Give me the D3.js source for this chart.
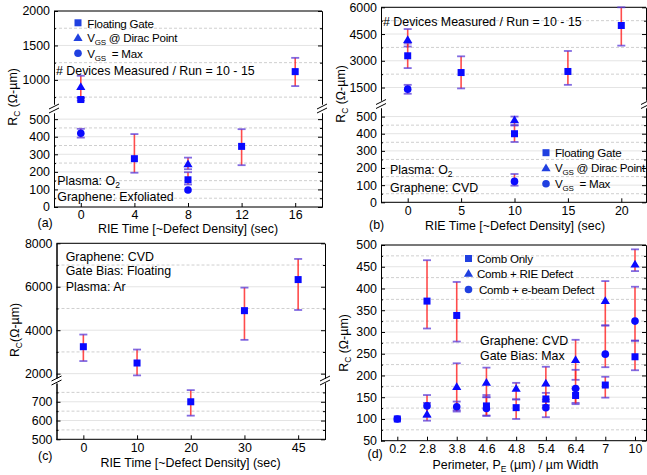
<!DOCTYPE html>
<html>
<head>
<meta charset="utf-8">
<script src="https://cdn.jsdelivr.net/npm/d3@7"></script>
<style>
  body { margin: 0; background: #fff; }
  text { font-family: "Liberation Sans", Arial, sans-serif; font-size: 12.4px; fill: #000; }
  text.leg { font-size: 11.6px; letter-spacing: -0.25px; }
</style>
</head>
<body>
<svg id="chart" width="647" height="475"></svg>
<script>
// ---- data: panel (a) O2 plasma, exfoliated graphene
var aTimes = [0, 4, 8, 12, 16];
var aFloat = [715, 275, 155, 345, 1120];
var aFloatLo = [700, 195, 128, 238, 910];
var aFloatHi = [740, 415, 198, 443, 1320];
var aDiracTimes = [0, 8];
var aDirac = [900, 245];
var aDiracLo = [740, 215];
var aDiracHi = [1060, 281];
var aMaxTimes = [0, 8];
var aMax = [420, 97];
var aMaxLo = [395, null];
var aMaxHi = [445, null];

// ---- panel (b) O2 plasma, CVD graphene
var bTimes = [0, 5, 10, 15, 20];
var bFloat = [3280, 2340, 400, 2400, 4980];
var bFloatLo = [2590, 1450, 352, 1650, 3850];
var bFloatHi = [3970, 3250, 448, 3550, 6000];
var bDiracTimes = [0, 10];
var bDirac = [4180, 480];
var bDiracLo = [3800, 450];
var bDiracHi = [4780, 500];
var bMaxTimes = [0, 10];
var bMax = [1410, 122];
var bMaxLo = [1150, 97];
var bMaxHi = [1650, 165];

// ---- panel (c) Ar plasma, CVD graphene, floating gate
var cTimes = ["0", "10", "20", "30", "45"];
var cFloat = [3240, 2490, 700, 4900, 6330];
var cFloatLo = [2580, 1920, 626, 3556, 4930];
var cFloatHi = [3800, 3110, 762, 5960, 7280];

// ---- panel (d) perimeter
var dPerim = ["0.2", "2.8", "3.8", "4.6", "4.8", "5.4", "6.4", "7", "10"];
var dComb = [100, 371, 338, 130, 126, 146, 154, 178, 243];
var dCombLo = [null, 308, 278, 108, 100, 132, 137, 149, 212];
var dCombHi = [null, 465, 415, 155, 145, 160, 170, 197, 280];
var dRiePerim = ["2.8", "3.8", "4.6", "4.8", "5.4", "6.4", "7", "10"];
var dRie = [111, 174, 184, 170, 182, 236, 372, 456];
var dRieLo = [96, 120, 150, 145, 145, 190, 315, 440];
var dRieHi = [137, 228, 218, 183, 220, 282, 417, 490];
var dEbPerim = ["0.2", "2.8", "3.8", "4.6", "5.4", "6.4", "7", "10"];
var dEb = [100, 130, 128, 124, 126, 170, 249, 325];
var dEbLo = [null, 105, 117, 107, 104, 134, 219, 280];
var dEbHi = [null, 155, 140, 150, 140, 213, 315, 404];

var svg = d3.select("#chart");
var blue = "#0a0aff";
var legBlue = "#2040e0";

function series(xs, vs, lo, hi, shape) {
  return xs.map(function (x, i) { return {x: x, v: vs[i], lo: lo[i], hi: hi[i], shape: shape}; });
}

// text with subscripts: parts = [[str, isSub], ...]
function rich(sel, parts, subSize) {
  var down = false;
  parts.forEach(function (p) {
    var ts = sel.append("tspan").text(p[0]);
    if (p[1] && !down) { ts.style("font-size", subSize || "8.5px").attr("dy", 3); down = true; }
    else if (!p[1] && down) { ts.attr("dy", -3); down = false; }
  });
  return sel;
}

function label(x, y, parts) {
  return rich(svg.append("text").attr("x", x).attr("y", y).attr("xml:space", "preserve"), parts);
}

function legLabel(x, y, parts) {
  return rich(svg.append("text").attr("class", "leg").attr("x", x).attr("y", y).attr("xml:space", "preserve"), parts, "8px");
}

function marker(g, shape, cx, cy, col) {
  if (shape == "sq") {
    g.append("rect").attr("x", cx - 3.5).attr("y", cy - 3.5).attr("width", 7).attr("height", 7).style("fill", col);
  } else if (shape == "tri") {
    g.append("path").attr("d", "M" + cx + "," + (cy - 4.5) + "L" + (cx + 4.6) + "," + (cy + 3.3) + "L" + (cx - 4.6) + "," + (cy + 3.3) + "Z").style("fill", col);
  } else {
    g.append("circle").attr("cx", cx).attr("cy", cy).attr("r", 3.8).style("fill", col);
  }
}

function panel(p) {
  var g = svg.append("g");
  p.segs.forEach(function (s) {
    s.y = d3.scaleLinear().domain(s.domain).range(s.range);
    // grid
    g.append("g").selectAll("line").data(s.minor).enter().append("line")
      .attr("x1", p.left).attr("x2", p.right)
      .attr("y1", function (d) { return s.y(d); }).attr("y2", function (d) { return s.y(d); })
      .style("stroke", "#cfcfcf").style("stroke-dasharray", "3,2");
    g.append("g").selectAll("line").data(s.major).enter().append("line")
      .attr("x1", p.left).attr("x2", p.right)
      .attr("y1", function (d) { return s.y(d); }).attr("y2", function (d) { return s.y(d); })
      .style("stroke", "#e4e4e4");
    // left axis
    g.append("g").attr("transform", "translate(" + p.left + ",0)")
      .call(d3.axisLeft(s.y).tickValues(s.major).tickSize(-4).tickSizeOuter(0).tickPadding(4).tickFormat(d3.format("d")));
    g.append("g").attr("transform", "translate(" + p.left + ",0)")
      .call(d3.axisLeft(s.y).tickValues(s.minor).tickSize(-2).tickSizeOuter(0).tickFormat(""));
    // right axis
    g.append("g").attr("transform", "translate(" + p.right + ",0)")
      .call(d3.axisRight(s.y).tickValues(s.major).tickSize(-4).tickSizeOuter(0).tickFormat(""));
    g.append("g").attr("transform", "translate(" + p.right + ",0)")
      .call(d3.axisRight(s.y).tickValues(s.minor).tickSize(-2).tickSizeOuter(0).tickFormat(""));
  });
  // top / bottom frame
  g.append("line").attr("x1", p.left).attr("x2", p.right).attr("y1", p.top).attr("y2", p.top).style("stroke", "#000");
  g.append("line").attr("x1", p.left).attr("x2", p.right).attr("y1", p.bottom).attr("y2", p.bottom).style("stroke", "#000");
  // bottom axis
  var xa = g.append("g").attr("transform", "translate(0," + p.bottom + ")")
    .call(d3.axisBottom(p.x).tickValues(p.xticks).tickSize(-4).tickPadding(p.xpad || 4));
  xa.select(".domain").remove();
  // axis breaks
  if (p.segs.length > 1) {
    var yb = (p.segs[0].range[0] + p.segs[1].range[1]) / 2;
    [p.left, p.right].forEach(function (xx) {
      [-2, 2].forEach(function (o) {
        g.append("line").attr("x1", xx - 5).attr("x2", xx + 5)
          .attr("y1", yb + o + 2.5).attr("y2", yb + o - 2.5)
          .style("stroke", "#000");
      });
    });
  }
  function yOf(v) {
    for (var i = 0; i < p.segs.length; i++) {
      var d = p.segs[i].domain;
      if (v >= d[0] && v <= d[1]) return p.segs[i].y(v);
    }
    return v > p.segs[0].domain[1] ? p.top : p.bottom;
  }
  var pts = [];
  p.data.forEach(function (s) { pts = pts.concat(s); });
  // error bars
  pts.filter(function (d) { return d.lo != null; }).forEach(function (d) {
    var cx = p.x(d.x);
    g.append("line").attr("x1", cx).attr("x2", cx).attr("y1", yOf(d.lo)).attr("y2", yOf(d.hi))
      .style("stroke", "#ff2020").style("stroke-width", 1.6).style("opacity", 0.8);
    [d.lo, d.hi].forEach(function (v) {
      g.append("line").attr("x1", cx - 4).attr("x2", cx + 4).attr("y1", yOf(v)).attr("y2", yOf(v))
        .style("stroke", "#5a3ad8").style("stroke-width", 1.8).style("opacity", 0.75);
    });
  });
  // markers
  pts.forEach(function (d) { marker(g, d.shape, p.x(d.x), yOf(d.v), blue); });
}

// ---- panel (a)
panel({
  left: 54, right: 322, top: 11, bottom: 207, xpad: 3,
  x: d3.scaleLinear().domain([-2, 18]).range([54, 322]),
  xticks: aTimes,
  segs: [
    {domain: [650, 2000], range: [104, 11], major: [1000, 1500, 2000], minor: [750, 1250, 1750]},
    {domain: [0, 535], range: [207, 113], major: [0, 100, 200, 300, 400, 500], minor: [50, 150, 250, 350, 450]}
  ],
  data: [
    series(aMaxTimes, aMax, aMaxLo, aMaxHi, "ci"),
    series(aDiracTimes, aDirac, aDiracLo, aDiracHi, "tri"),
    series(aTimes, aFloat, aFloatLo, aFloatHi, "sq")
  ]
});

// ---- panel (b)
panel({
  left: 381, right: 646, top: 7.3, bottom: 202.3,
  x: d3.scaleLinear().domain([-2.5, 22.5]).range([381, 648]),
  xticks: bTimes,
  segs: [
    {domain: [800, 6000], range: [100, 7.3], major: [1500, 3000, 4500, 6000], minor: [2250, 3750, 5250]},
    {domain: [0, 550], range: [202.3, 108], major: [0, 100, 200, 300, 400, 500], minor: [50, 150, 250, 350, 450]}
  ],
  data: [
    series(bMaxTimes, bMax, bMaxLo, bMaxHi, "ci"),
    series(bDiracTimes, bDirac, bDiracLo, bDiracHi, "tri"),
    series(bTimes, bFloat, bFloatLo, bFloatHi, "sq")
  ]
});

// ---- panel (c)
panel({
  left: 56.5, right: 325, top: 243.3, bottom: 439.3,
  x: d3.scalePoint().domain(cTimes).range([56.5, 325]).padding(0.5),
  xticks: cTimes,
  segs: [
    {domain: [1800, 8000], range: [378, 243.3], major: [2000, 4000, 6000, 8000], minor: [3000, 5000, 7000]},
    {domain: [500, 800], range: [439.3, 383], major: [500, 600, 700], minor: [550, 650, 750]}
  ],
  data: [series(cTimes, cFloat, cFloatLo, cFloatHi, "sq")]
});

// ---- panel (d)
panel({
  left: 381, right: 646, top: 245, bottom: 440.7,
  x: d3.scalePoint().domain(dPerim).range([397.3, 635]),
  xticks: dPerim,
  segs: [
    {domain: [50, 500], range: [440.7, 245], major: d3.range(50, 501, 50), minor: d3.range(75, 500, 50)}
  ],
  data: [
    series(dPerim, dComb, dCombLo, dCombHi, "sq"),
    series(dRiePerim, dRie, dRieLo, dRieHi, "tri"),
    series(dEbPerim, dEb, dEbLo, dEbHi, "ci")
  ]
});

// ---- axis titles
function ytitle(x, y, parts) {
  rich(svg.append("text").attr("transform", "translate(" + x + "," + y + ") rotate(-90)").attr("text-anchor", "middle"), parts);
}
ytitle(17, 97, [["R"], ["C", 1], [" (\u03a9-\u00b5m)"]]);
ytitle(345, 94, [["R"], ["C", 1], [" (\u03a9-\u00b5m)"]]);
ytitle(19, 330, [["R"], ["C", 1], ["(\u03a9-\u00b5m)"]]);
ytitle(348, 343, [["R"], ["C", 1], [" (\u03a9-\u00b5m)"]]);

svg.append("text").attr("x", 188).attr("y", 232.6).attr("text-anchor", "middle").text("RIE Time [~Defect Density] (sec)");
svg.append("text").attr("x", 515).attr("y", 229.5).attr("text-anchor", "middle").text("RIE Time [~Defect Density] (sec)");
svg.append("text").attr("x", 190.5).attr("y", 466.8).attr("text-anchor", "middle").text("RIE Time [~Defect Density] (sec)");
rich(svg.append("text").attr("x", 515.5).attr("y", 469.3).attr("text-anchor", "middle"),
  [["Perimeter, P"], ["E", 1], [" (\u00b5m) / \u00b5m Width"]]);

label(37.5, 226.5, [["(a)"]]);
label(369, 228.5, [["(b)"]]);
label(38, 459.5, [["(c)"]]);
label(367.5, 457.8, [["(d)"]]);

// ---- annotations (a)
var lg = svg.append("g");
marker(lg, "sq", 78, 22.8, legBlue);
marker(lg, "tri", 78, 37.8, legBlue);
marker(lg, "ci", 78, 53.3, legBlue);
legLabel(87.3, 27.6, [["Floating Gate"]]);
legLabel(87.3, 42, [["V"], ["GS", 1], [" @ Dirac Point"]]);
legLabel(87.3, 57.5, [["V"], ["GS", 1], ["  = Max"]]);
label(56, 74.5, [["# Devices Measured / Run = 10 - 15"]]);
label(57.3, 184.5, [["Plasma: O"], ["2", 1]]);
label(57.3, 201, [["Graphene: Exfoliated"]]);

// ---- annotations (b)
marker(lg, "sq", 546, 152.7, legBlue);
marker(lg, "tri", 546, 168, legBlue);
marker(lg, "ci", 546, 183.8, legBlue);
legLabel(555, 157, [["Floating Gate"]]);
legLabel(555, 172.4, [["V"], ["GS", 1], [" @ Dirac Point"]]);
legLabel(555, 188.2, [["V"], ["GS", 1], ["  = Max"]]);
label(383, 25.5, [["# Devices Measured / Run = 10 - 15"]]);
label(390, 173.8, [["Plasma: O"], ["2", 1]]);
label(390, 191.8, [["Graphene: CVD"]]);

// ---- annotations (c)
label(65.7, 260.5, [["Graphene: CVD"]]);
label(65.7, 275.2, [["Gate Bias: Floating"]]);
label(65.7, 290.5, [["Plasma: Ar"]]);

// ---- annotations (d)
marker(lg, "sq", 468.5, 258.5, legBlue);
marker(lg, "tri", 468.5, 273.5, legBlue);
marker(lg, "ci", 468.5, 289.5, legBlue);
legLabel(477, 262.8, [["Comb Only"]]);
legLabel(477, 277.6, [["Comb + RIE Defect"]]);
legLabel(479, 293.8, [["Comb + e-beam Defect"]]);
label(480, 344.5, [["Graphene: CVD"]]);
label(480, 359.5, [["Gate Bias: Max"]]);
</script>
</body>
</html>
